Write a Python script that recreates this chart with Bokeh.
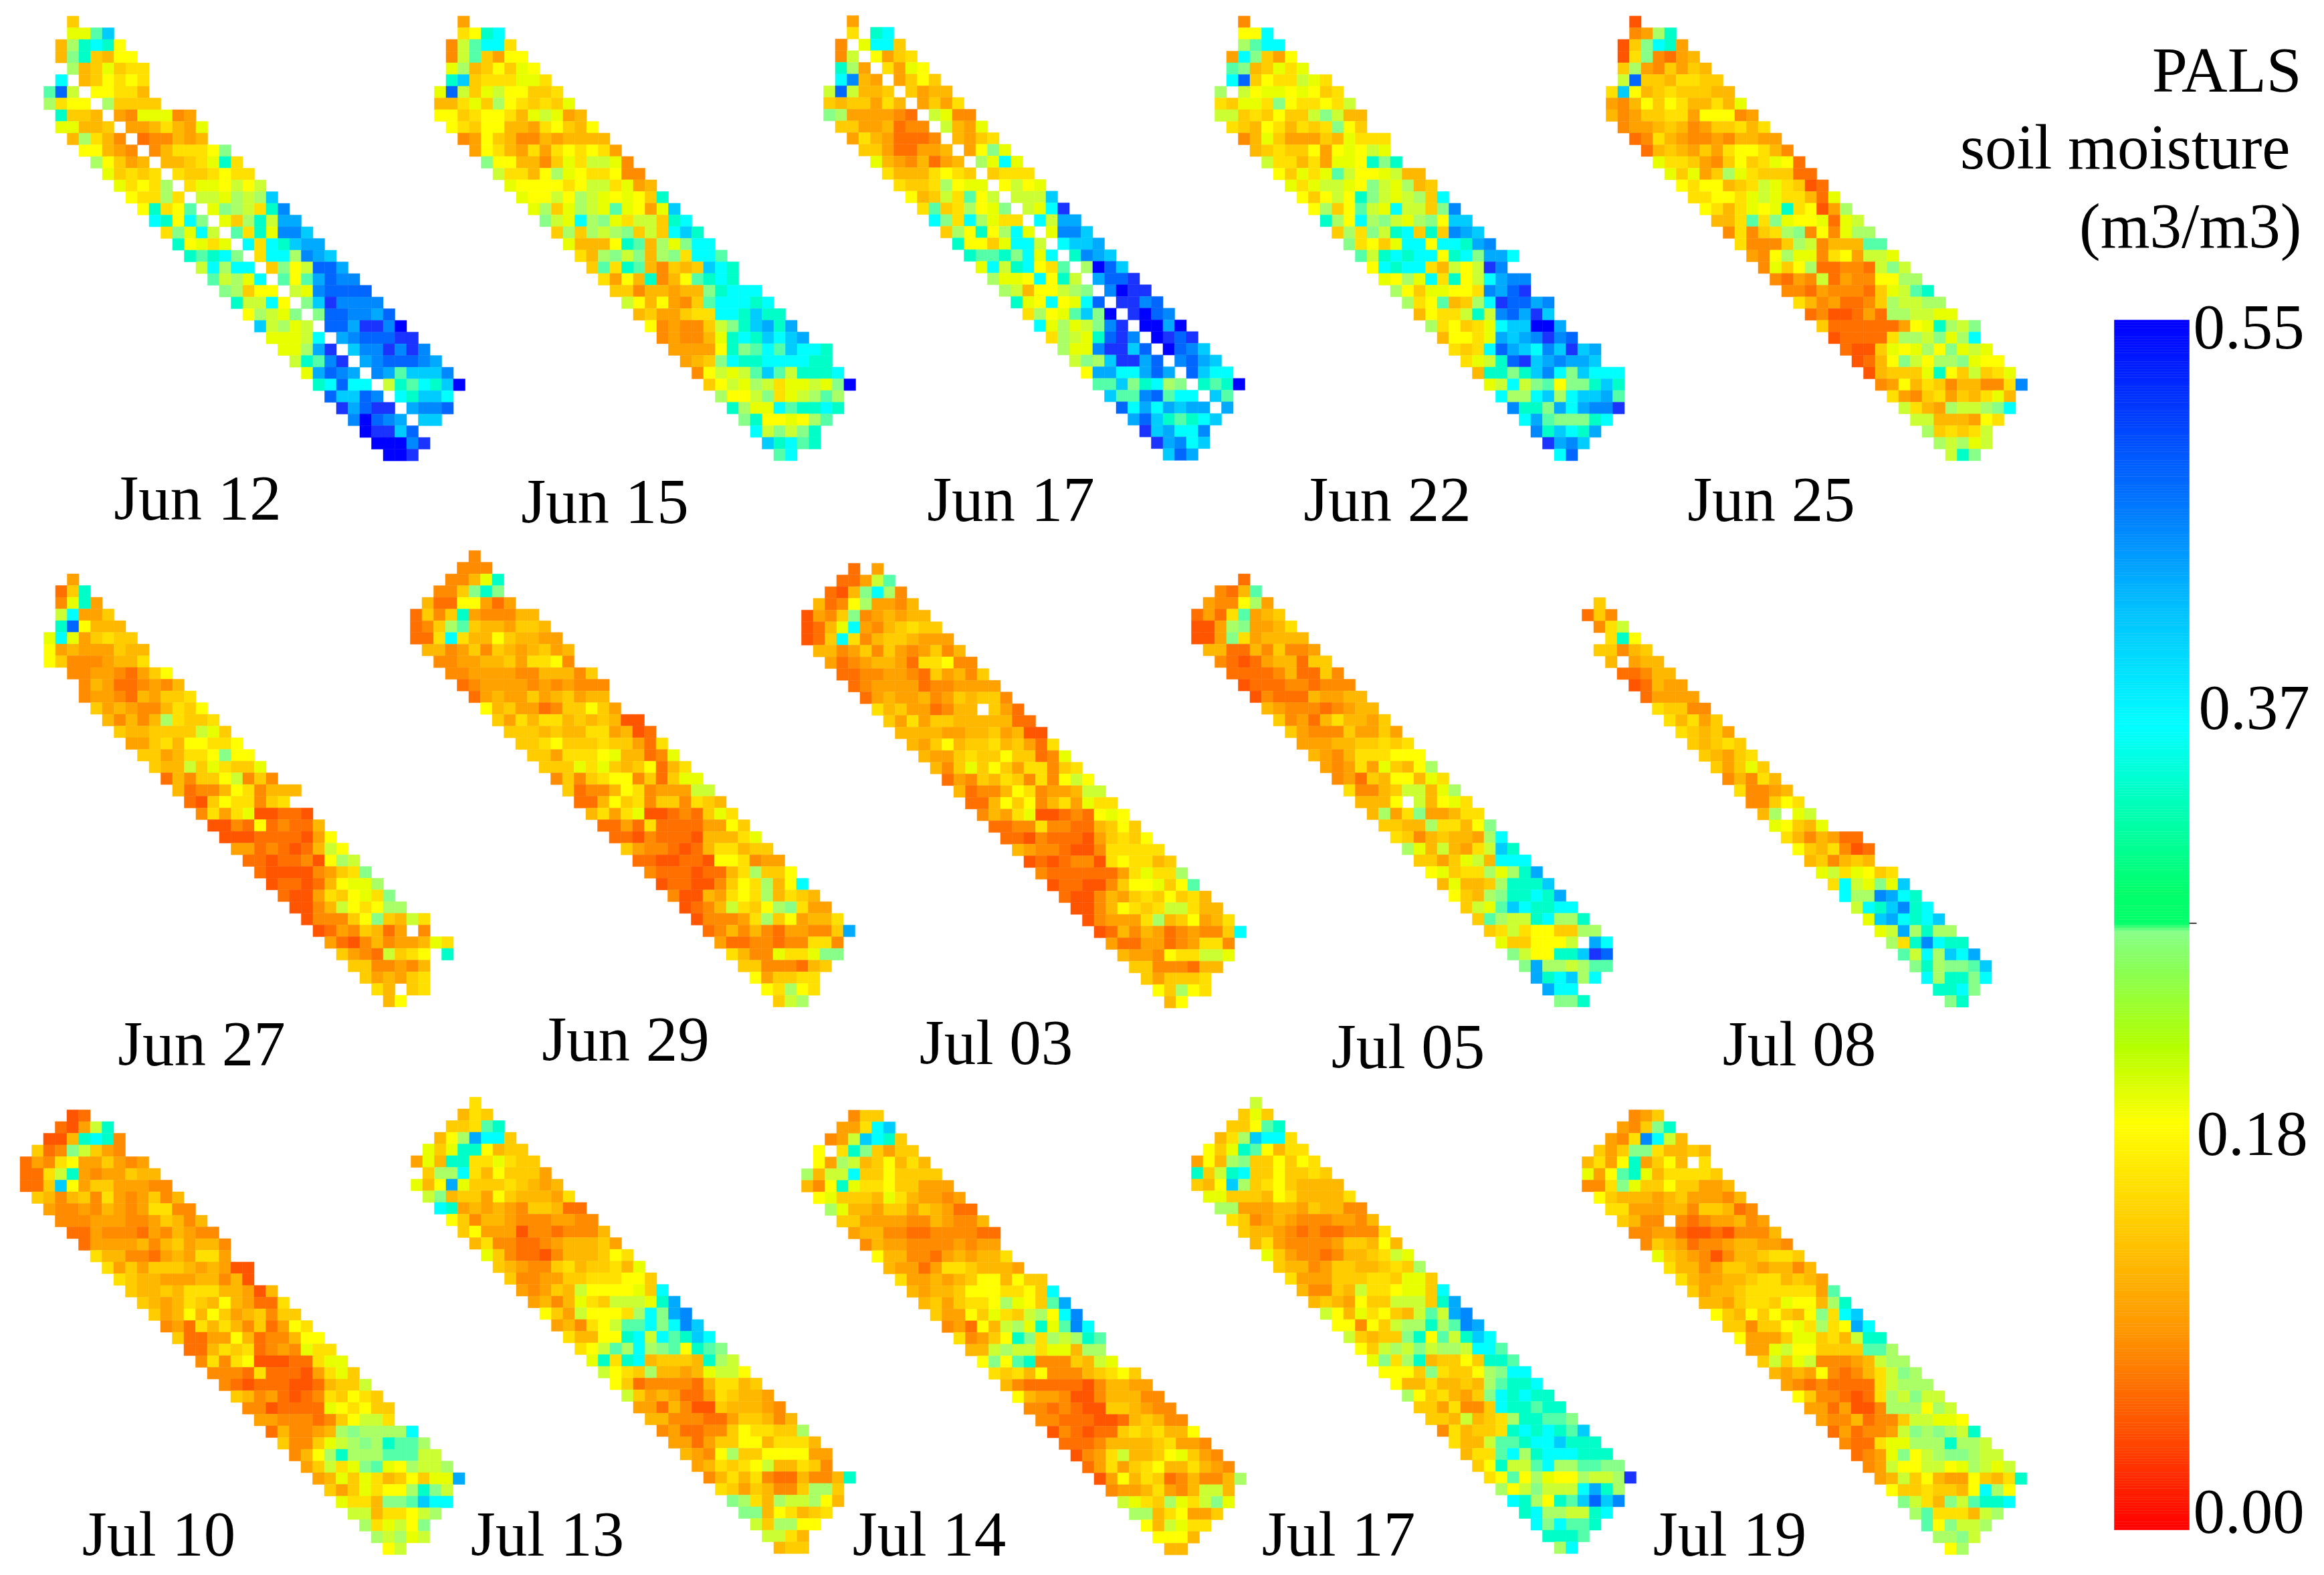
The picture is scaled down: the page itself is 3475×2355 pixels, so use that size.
from bokeh.models import ColumnDataSource, Range1d
from bokeh.plotting import figure
from bokeh.core.properties import value
from bokeh.embed import file_html
from bokeh.resources import INLINE

# Each row is "first column:cell codes"; "." is a gap without data.
LEVEL_CODES = list("abcdefghijklmnopqrstu")
LEVEL_VALUES = [0.03, 0.05, 0.07, 0.09, 0.11, 0.13, 0.15, 0.18, 0.20, 0.225, 0.25,
                0.27, 0.30, 0.33, 0.37, 0.39, 0.42, 0.45, 0.48, 0.51, 0.55]
LEVEL_COLORS = ["#ff5400", "#ff7000", "#ff8c00", "#ffa200", "#ffb800", "#ffcc00", "#ffe000",
                "#ffff00", "#e8ff00", "#ccff33", "#aaff66", "#88ff88", "#55ffaa", "#00ffc8",
                "#00ffff", "#00ccff", "#00aaff", "#0088ff", "#0066ff", "#1a33ff", "#0000ff"]

JUN_12 = """2:f 2:iimp 1:eknonh 1:elnfehh 2:kefifgg 1:o.efhghg 0:msj.hhgge 0:kghh.kffff 1:nffe.dciiicd
1:iieef.ddegedi 2:ekgec.bccede 3:hhedc.ceggghl 4:khfde.eefging 5:ifgfg.gffghgg 6:ighgk.giihjhj 7:hggkg.jjikjkp
8:hnghm.ilkjgnr 9:onhol.ifknjqq 10:glioj.mgnirrp 11:nhigi.ogonpqq 12:nmnol.gookrqp 13:jokoo.flhjssq
14:mjkio.mhmqsrr 15:lkfhh.jirssss 16:njjoh.lptrrrr 17:hkjil.lssrrqs 18:pjkij.ssqttru 19:iiijo.qrssstt
20:iikqt.prrtrtr 21:jnmrt.qrsssrq 22:iqsrq.rqmpppr 23:nosoo.jnmonpu 24:sppsr.onppo 25:tqstt.qrrs
26:rusrq.pp 27:uttps 28:uuurt 29:uut""".split()

JUN_15 = """2:d 2:ghno 1:cjmoog 1:cjmfdhh 1:ikefhfih 1:npfgggiig 0:isjfijhhffg 0:eegifkhgfgfi 0:hhfghhgeijide
1:hgfhheedghfeh 2:cdhfeccedeeee 3:dhgedgdghghgd 4:lhheecfigjjic 5:jggehkihgghcc 6:ihhhhghjjgide
7:ihhjhkjihihfn 8:ikfikjimihdip 9:ljiokligjjfno 10:fkfkjklfjfopn 11:ieeehnmekiloo 12:gekljleklgoom
13:fmgnmecfefpon 14:gdhencehmnon 15:ffceedeelnooo 16:jhehdcfmooono 17:efddfggoonpnn 18:hcdccfjlnpqnq
19:cdcceinonpopq 20:ddddhnlmompoon 21:deflonnoooonn 22:chjijmpmjnnno 23:fhjikjgiijilu 24:khhjlgijkmk
25:nkiiomnnon 26:lnhhihkm 27:ojljln 28:pnomn 29:mo""".split()

JUN_17 = """2:d 2:g.no 1:c.ioof 1:cj.hdfg 1:nkd.gdih 1:ored.dfhf 0:jsjeef.fdee 0:feffdge.dfdg 0:lkddddcb.jicc
1:ffddebcc.jedi 2:dgedbbbc.edfg 3:ffdbbdde.dhli 4:iedcebde.kioi 5:geeeghgf.fggg 6:gffgkhii.hjhi
7:hefjgmhj.jjjp 8:gmfgkhil.jiot 9:olgokigg.ojqq 10:fkhnhkoi.irrp 11:nhhfiooj.oppq 12:nmmnloio.nrqp
13:iojnohgm.kusp 14:kiihohnj.qsst 15:kjehhjkl.rutt 16:nihohios.ttrs 17:gkhimplu.tusr 18:oikijlrt.uuqu
19:gkjinstr.utst 20:kiirttps.usrp 21:jlkpttqs.rsqp 22:hqqooqsq.spoo 23:mmplnokl.nmnu 24:pmmrsmoo.pm
25:soqoqpqq.q 26:qspnmnop 27:tpqoor 28:tqrop 29:psq""".split()

JUN_22 = """2:c 2:hho 2:kmoo 1:dolfdh 1:mlefigi 1:osfhggjig 0:k.jhiihihfg 0:gfiiglhgghgj 0:jjfgfhffjljee
1:gfehgegfglhf 2:ceifdddfeiggg 3:efgffhdhihji 4:jggegdiihnln 5:hfigimjhhijee 6:igijjihljikef
7:hfhjhnljijkfo 8:hkfhmjiojjflr 9:nkhokljiklhpp 10:fkgljnofnfrqp 11:lghfioohoonqr 12:mjnonoohnolqqo
13:honoogejhjtr 14:ihkiognhjoqrr 15:khfiihhgrqst 16:kghmefkotssqr 17:ehggjnjrsqtp 18:kghfgioppuuq
19:ehhgiqpqrtrs 20:gfgosqporptpq 21:gijnstpqrqqp 22:ennlnprolpooo 23:ijojlmhllnpn 24:okkopkoppqm
25:rnnlqoqrrt 26:oqmlllno 27:rnponq 28:tqrp 29:os""".split()

JUN_25 = """2:a 2:cdkn 1:aflond 1:aglcbde 1:fkdcfdfe 1:jsffeggff 0:gphefgfffee 0:dcehfhgeegei 0:ecdffggdhhhcd
1:cddefecdffgeg 2:bcgedccdceedd 3:befedfdghhgec 4:iggfdcfhfgihb 5:ifidfkigfffbb 6:hghhefgjigfab
7:gghhgijiggebi 8:hgegihinghadk 9:eegmglihhibij 10:cgcfgklchcikk 11:gcccfkjceeemm 12:dchkiicghdjji
13:cifhkbbccbjlj 14:cbdcjbdcchhkk 15:ccbdcccbfijmn 16:gecdbbcfkjjkk 17:bcaabdbkkjjii 18:fbbbbbbdhinkjl
19:abbbbgkkjliko 20:baafihikhliji 21:abehljhkklihh 22:aefffinhfjfgi 23:cdhegfceeccgr 24:gdcfgdfegie
25:jgedkjjklo 26:jjeeedhg 27:kfgfgj 28:kjkij 29:jnl""".split()

JUN_27 = """2:d 1:bfn 1:cind 1:joddf 1:nsheee 0:ioidfgff 0:hdedddfee 0:hfcccdeeg 2:ccddcbdfh 3:cedbbcdce
3:cddcbedffg 4:fdedccegfh 5:ececekgffg 6:feeffffjif 7:ddfgehhggh 8:ffdegghlhh 9:feejfigffi 10:becffhjcfc
11:ebccehgceee 12:bafhggcfg 13:cgdgiaabba 14:aacbhbcbbe 15:aaabbbbadh 16:ddbcbabejh 17:bbabbcahkj
18:baaaacdfgl 19:abbabehiik 20:baadgfhigl 21:aacejhghkk 22:acccfhlfejg 23:abdcfebd.c 24:dbacecddeig
25:fdcbjfgh.n 26:ffccdce 27:fdedfg 28:ge.fg 29:eh""".split()

JUN_29 = """5:c 4:ccc 3:ccein 2:ccflnl 1:ebbhhdbd 0:bfcfndcccee 0:bcfkmfeedffe 0:bbgogeehfeedd 1:eecdfcfedefde
2:ccddeefdgghc 3:ccddddcceeecf 4:bcddddcdcdccc 5:bdeddfdefdee 6:hefddbcffhfd 7:fdgeggefefeaa
8:fffefeeggdeab 9:ffghfffgffdbg 10:ffdggghieebci 11:fffigifefhbeg 12:cfcfghhcfbfii 13:fbccehgcdddjj
14:bbehfgcffcgfe 15:egdgiaabcbfig 16:bbdbgbbbbddhf 17:bbacbbbaeeegi 18:fdccbabeggeff 19:bbaabbahhgcdd
20:cbbbabbegkffh 21:abbaacfhgkeho 22:caaedghgkegfe 23:abcejgfhklgdd 24:acccdgkfhdeeg 25:bcececbddccfq
26:dbbccbccggc 27:gecciggill 28:ffcccbef 29:hdffgg 30:hgkhg 31:fjk""".split()

JUL_03 = """4:b.d 3:bbdjm 2:baelokc 1:ebchkddce 0:adcflcdedee 0:abeiodcefgff 0:abfogceffeddd 1:eecdfcfdcdfce
2:dbcdeedbgghcc 3:bbccddcbfdecf 4:bcddddbccdddd 5:bdeddecdfeffc 6:gefddbcee.fdb 7:fdgdffeeeeebb
8:eeeeddeefdeaa 9:edfheffgefdbg 10:eddfgffhffbci 11:ecfifhfdggcfg 12:bdcfegfcgchjh 13:ebccehgcddejj
14:bbehfhcegdigg 15:cedgiaabcbhih 16:bbccgccbbefhf 17:bbacbbbadfgfh 18:edccbaacggggg 19:ababccaghggef
20:cbbbbbbdgiggk 21:abbaacfhhifhm 22:baacedfgfhfge 23:aacehgfgjjgee 24:acdddgkefhdeg 25:abecedbcdccfo
26:dbbddbcdggc 27:eddchggjji 28:ffcccbee 29:fdfffg 30:hfkhg 31:eh""".split()

JUL_05 = """4:b 2:cbem 1:dcchkd 0:bdbgmdef 0:aadklddeg 0:aadlgdeeee 1:eebbecfccd 2:cbabdeebff 3:bbbbcebbfc
4:abbbccbccc 5:acbbbeddee 6:edcccbcdee 7:fcdbegeedf 8:fdcccfddfd 9:dddeeffgfg 10:edceggghhh 11:dcdgdifehk
12:cdbfehheig 13:gccefjjeik 14:eeeh.jehig 15:ekdglddegg 16:ffeekggehl 17:gfcefeedko 18:kiejedgjpn
19:ffdfijeooo 20:hifggkiknq 21:eieefknnnp 22:hfeklnnonq 23:fjimponnoo 24:fmkjjnokkn 25:fgjghhffkk
26:iffhhhj.qo 27:ljhhnnpts 28:lqkkjkmm 29:qnopko 30:qoo 31:lln""".split()

JUL_08 = """1:f 0:bfc 1:cgj 2:gnh 1:ffcef 2:e.dee 3:bbcee 4:abedd 5:bdddd 6:gffcc 7:gegdf 8:gfefd 9:fefgf
10:fedfg 11:fdfif 12:cecge 13:gccde 14:ccfhg 15:ek.ij 16:ihfei 17:gecedbb 18:hfegcab 19:efcefe 20:ijgihfg
21:gojilip 22:okkrqon 23:jonprno 24:ipqonop 25:ijqknkk 26:kgnronn 27:mjokpoq 28:lnkllmp 29:oknnlo 30:nnol 31:ln""".split()

JUL_10 = """4:ab 3:badjn 2:aaenonc 1:fbcljfdc 0:bdcghddfdcd 0:bbgjndcddfee 0:bbfphdffdddcc 1:fecefcgdcdfce
2:dccdcedcdggcc 3:cccdddccdfece 4:bbdcccbdcedcc 5:bddddecefdeec 6:geeccbdedggd 7:gdfdfffededaa
8:gfeedddeecea 9:feefegggeedae 10:fedegfehedbbg 11:fdehehfdefcff 12:cdbgegecfbdhg 13:fbbddhebccehh
14:bbegfgbcdcigg 15:cgcghaaabbgii 16:cccbgbbbadgif 17:cbabbbaabeffj 18:fecdbabcgfhgf 19:ccabbbbihghff
20:ddcccbcfhjjg 21:beccdeklkkkko 22:fccfijklknmmk 23:cehknkkkmmmjj 24:dfjgilmihkjjk 25:deifigefhfiiq
26:fdfighhknlj 27:iggellmpoo 28:jjegghjk 29:kgijhl 30:kjkij 31:hj""".split()

JUL_13 = """5:g 4:egf 3:ffgmn 2:ehkqoof 1:ifinnheff 0:diennggigff 1:fkkogehfffd 0:iehqifffgfede 1:jleffdhfeeedg
2:ondededcffebb 3:hfceedcccddcc 4:fhdddaccbccce 5:egccbbcdeeefd 6:ifcbbaceeefhg 7:fedccfgeffgei
8:fccddffggghhf 9:dcdfejhhhhifo 10:deceigfjjjinq 11:hfdjhhhgkolqr 12:decghjmmolorp 13:geehhnojomnpo
14:ghjmkoklmhnml 15:ingnoefffenkj 16:jhgfkeedeijjh 17:hfbccccbeggef 18:jfdedbbdgfeed 19:ddbecaafeeedc
20:eecccbbdffece 21:cdbbccfhggffk 22:ddbdffhheggge 23:edchkffhhhhdd 24:degfghjeegfc 25:cegegcbbeccen
26:gfdfeccfkkf 27:lkgekjjkhe 28:llehgefg 29:jfkkhh 30:jjge 31:eff""".split()

JUL_14 = """4:cff 3:ddgop 2:cdjponf 1:h.gnlfdff 1:hdkjefhege 0:kejjoffhffff 0:echnigghffddd 1:hifffeigeddcd
2:kieedffdfedbb 3:ffddddccedcce 4:deeccbbccccbb 5:ceddccccdcdd 6:heeccbdedeeg 7:eddbdggfeeed 8:gddedefhhehff
9:edeefhhhgghfo 10:efdfgghkihfmq 11:fddhfigfjkhor 12:cdbhejkinimro 13:gcdfhnlgkjknm 14:eejkjjgiiekk
15:hlhmncccfeji 16:gfgehcccefghf 17:ecbbbbbaceedd 18:heddcaaceeecc 19:ccbcbaaffedcc 20:ccbbbaabefecc
21:acbabbfgfgeeh 22:bbbceeeefgddc 23:acdgjeefhifdc 24:bdgdfgheegedc 25:adhegfbceccek 26:cddegdcejje
27:jigfkigjli 28:kkeghddf 29:hejigg 30:hhhe 31:ee""".split()

JUL_17 = """5:j 4:fif 3:ffhmn 2:egkpoog 1:hfinmhegg 0:dheklffhfhg 0:nfjnoffhffgf 0:fehpkfghfeeee 1:iifffehgeeeeg
2:kkdddeedfeecc 3:gfcdedcccddce 4:feedcbcbbcccg 5:egdccccdffehe 6:ifdccbceefgji 7:feecdffeefgfk
8:gdddfffggfiif 9:eccfejgghiifo 10:efedhffjjjfnq 11:jheighfejmjqr 12:hhchfjkknkmrq 13:jfefflnhmjnpo
14:hfjkjljkkjoom 15:ilgkneffhfnnm 16:hhhflgffhkloo 17:heegeefekmnno 18:khfgedflononn 19:ffdgccfonnmnn
20:ffejefgknnmml 21:cgeffgnononmp 22:geejmmnoopnnn 23:eggmoknooonnn 24:fhnjjmokkmmll 25:ghmhkihhkjjkt
26:khjljjjoqnk 27:onkhnmpspr 28:nokkjjno 29:olommn 30:nnnm 31:ko""".split()

JUL_19 = """4:cdf 3:dcfln 2:dcgroje 1:fdfllgeefe 0:egdhndfhe.g 0:idhmnieggggf 0:ccgliffhffdde 1:hfeeedefdddce
2:ggdddeecffebc 3:fecc.cbcddecd 4:ccddbaabaccce 5:cfedbccdeeddc 6:ifedcaceefggf 7:geecdffedeece
8:geddeefggefed 9:fdeefggggggdm 10:eedfggfihhekn 11:hfehfhfehlgop 12:ffcffhigkghqo 13:hdddfiifgejnn
14:ddijhhffffmmk 15:fjfijcccdejkk 16:ededhcbcegjlk 17:dcbcbbbbgjkkk 18:hfccbabgkjljj 19:ddbdaackkkhkj
20:dccebccfjjiih 21:bdbccdjlklkjn 22:cbbgiikkknkkj 23:bcdilhjkllkjj 24:cdjhhjjhikjij 25:dejfheddhfegn
26:hffgffehokh 27:ljgeljmnno 28:kmgggejk 29:mhljjk 30:kklj 31:hk""".split()

PANEL_ROWS = [JUN_12, JUN_15, JUN_17, JUN_22, JUN_25, JUN_27, JUN_29, JUL_03, JUL_05, JUL_08,
              JUL_10, JUL_13, JUL_14, JUL_17, JUL_19]
PANEL_NAMES = ["Jun 12", "Jun 15", "Jun 17", "Jun 22", "Jun 25", "Jun 27", "Jun 29", "Jul 03",
               "Jul 05", "Jul 08", "Jul 10", "Jul 13", "Jul 14", "Jul 17", "Jul 19"]

# Colour bar
BAR_VALUES = [0.55, 0.37, 0.18, 0.0]
BAR_LABELS = ["0.55", "0.37", "0.18", "0.00"]
TITLE_LINES = ["PALS", "soil moisture", "(m3/m3)"]
BAR_STOPS = [(0.0, "#ff0000"), (0.045, "#ff5000"), (0.09, "#ff9600"), (0.135, "#ffc800"),
             (0.185, "#ffff00"), (0.22, "#b4ff00"), (0.255, "#88ff55"), (0.272, "#88ff88"),
             (0.276, "#00ff6a"), (0.29, "#00ff6a"), (0.365, "#00ffff"), (0.42, "#00bfff"),
             (0.46, "#0080ff"), (0.55, "#0000ff")]

# Layout, in page pixels
W, H = 3467, 2347
CELL = 17.5
PANEL_X = [65, 649, 1231, 1816, 2401, 65, 613, 1198, 1781, 2365, 29.5, 614, 1198, 1781, 2365]
PANEL_Y = [23.6, 23.4, 22.8, 23.4, 23.4, 857.6, 822.7, 841.7, 857.6, 893, 1659, 1640, 1659.4, 1640, 1659]
LABEL_X = [295, 904, 1511, 2074, 2648, 301, 935, 1489, 2105, 2690, 237, 818, 1389, 2001, 2586]
LABEL_Y = [744, 749, 746, 746, 746, 1560, 1553, 1558, 1564, 1560, 2293, 2293, 2293, 2293, 2293]
TITLE_RIGHT = [3441, 3424, 3441]
TITLE_Y = [104, 219, 337]
BAR_LEFT, BAR_RIGHT, BAR_TOP, BAR_BOTTOM = 3161, 3273, 478, 2287
BAR_LABEL_X = [3279, 3287, 3284, 3279]
BAR_LABEL_Y = [489, 1058, 1695, 2260]
FONT = value("Liberation Serif")
FONT_SIZE = "95px"

p = figure(width=W, height=H, output_backend="svg", toolbar_location=None,
           x_range=Range1d(0, W), y_range=Range1d(H, 0),
           min_border=0, outline_line_color=None, background_fill_color="white")
p.axis.visible = False
p.grid.visible = False

code_color = dict(zip(LEVEL_CODES, LEVEL_COLORS))
code_value = dict(zip(LEVEL_CODES, LEVEL_VALUES))
cells = dict(left=[], right=[], top=[], bottom=[], color=[], moisture=[])
for rows, x0, y0 in zip(PANEL_ROWS, PANEL_X, PANEL_Y):
    for r, row in enumerate(rows):
        start, codes = row.split(":")
        for k, code in enumerate(codes):
            if code == ".":
                continue
            left = x0 + (int(start) + k) * CELL
            top = y0 + r * CELL
            cells["left"].append(left)
            cells["right"].append(left + CELL)
            cells["top"].append(top)
            cells["bottom"].append(top + CELL)
            cells["color"].append(code_color[code])
            cells["moisture"].append(code_value[code])
p.quad(left="left", right="right", top="top", bottom="bottom", fill_color="color",
       line_color="color", line_width=0.5, source=ColumnDataSource(cells))


def bar_color(v):
    for (v0, c0), (v1, c1) in zip(BAR_STOPS, BAR_STOPS[1:]):
        if v <= v1:
            t = (v - v0) / (v1 - v0)
            rgb = [round(int(c0[i:i + 2], 16) * (1 - t) + int(c1[i:i + 2], 16) * t) for i in (1, 3, 5)]
            return "#%02x%02x%02x" % tuple(rgb)
    return BAR_STOPS[-1][1]


n_steps = 440
scale = (BAR_BOTTOM - BAR_TOP) / 0.55
bar_v0 = [i * 0.55 / n_steps for i in range(n_steps)]
p.quad(left=BAR_LEFT, right=BAR_RIGHT,
       bottom=[BAR_BOTTOM - v * scale for v in bar_v0],
       top=[BAR_BOTTOM - (v + 0.55 / n_steps) * scale for v in bar_v0],
       fill_color=[bar_color(v + 0.55 / n_steps / 2) for v in bar_v0],
       line_color=[bar_color(v + 0.55 / n_steps / 2) for v in bar_v0], line_width=0.5)
p.segment(x0=[BAR_RIGHT], x1=[BAR_RIGHT + 11], y0=[1380], y1=[1380], line_color="black", line_width=1.5)

p.text(x=LABEL_X, y=LABEL_Y, text=PANEL_NAMES, text_font=FONT, text_font_size=FONT_SIZE,
       text_align="center", text_baseline="middle", text_color="black")
p.text(x=BAR_LABEL_X, y=BAR_LABEL_Y, text=BAR_LABELS, text_font=FONT, text_font_size=FONT_SIZE,
       text_align="left", text_baseline="middle", text_color="black")
p.text(x=TITLE_RIGHT, y=TITLE_Y, text=TITLE_LINES, text_font=FONT, text_font_size=FONT_SIZE,
       text_align="right", text_baseline="middle", text_color="black")

open("out.html", "w").write(file_html(p, INLINE))
